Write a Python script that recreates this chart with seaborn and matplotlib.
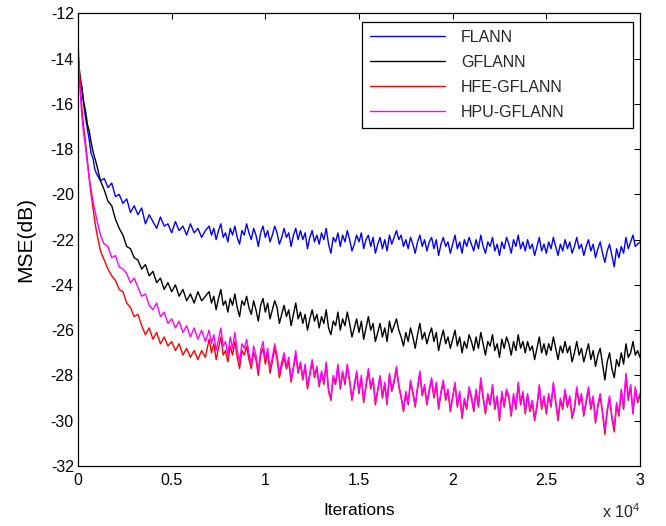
import numpy as np
import pandas as pd
import matplotlib
matplotlib.use("Agg")
import matplotlib.pyplot as plt
import seaborn as sns

series_names = ["FLANN", "GFLANN", "HFE-GFLANN", "HPU-GFLANN"]
series_colors = ["#0000ff", "#000000", "#ff0000", "#ff00ff"]

# iteration positions
early_iters = [0, 100, 200, 300, 400, 500, 600, 700, 800, 900, 1000,
               1200, 1400, 1600, 1800, 2000, 2200, 2400, 2600, 2800, 3000,
               3200, 3400, 3600, 3800, 4000, 4200, 4400, 4600, 4800, 5000,
               5200, 5400, 5600, 5800, 6000, 6200, 6400, 6600, 6800]
late_iters = list(range(7000, 30001, 125))

# ---- FLANN (blue) ----
blue_early = [-14.2, -14.9, -15.2, -16.0, -16.6, -17.1, -17.6, -18.2, -18.4, -18.9, -19.1,
              -19.4, -19.3, -19.7, -19.5, -20.1, -20.0, -20.4, -20.2, -20.8, -20.5,
              -20.9, -20.6, -21.3, -20.9, -21.2, -21.5, -21.0, -21.4, -21.3, -21.7,
              -21.2, -21.6, -21.4, -21.8, -21.3, -21.7, -21.5, -21.9, -21.6]
blue_late = [
    -21.4, -21.8, -21.5, -22.0, -21.6, -21.3, -21.9, -21.7,
    -22.1, -21.5, -21.8, -21.4, -21.9, -22.2, -21.6, -21.8,
    -21.3, -21.7, -22.0, -21.5, -21.8, -22.3, -21.7, -21.4,
    -21.9, -21.6, -22.1, -21.8, -21.4, -21.7, -22.2, -21.9,
    -21.5, -21.9, -21.7, -22.3, -21.8, -21.5, -22.0, -21.6,
    -22.0, -21.7, -22.4, -21.9, -21.6, -22.1, -21.8, -22.2,
    -21.7, -22.0, -21.5, -22.2, -22.6, -21.9, -22.1, -21.7,
    -22.3, -21.8, -22.1, -21.6, -22.0, -22.5, -22.2, -21.8,
    -22.1, -21.7, -22.4, -22.0, -21.8, -22.3, -21.9, -22.6,
    -22.2, -21.9, -22.4, -22.0, -22.5, -21.8, -22.2, -21.9,
    -21.6, -22.0, -21.8, -22.3, -22.0, -22.4, -21.9, -22.2,
    -22.6, -22.1, -21.8, -22.3, -22.0, -22.5, -22.1, -21.9,
    -22.4, -22.0, -22.7, -22.2, -21.9, -22.3, -22.1, -22.6,
    -22.2, -21.8, -22.4, -22.1, -22.6, -22.0, -22.3, -21.9,
    -22.2, -22.5, -22.0, -22.4, -21.8, -22.3, -22.6, -22.1,
    -22.3, -21.9, -22.5, -22.2, -22.7, -22.1, -22.4, -21.9,
    -22.2, -22.6, -22.0, -22.3, -21.8, -22.4, -22.1, -22.5,
    -22.0, -22.4, -22.2, -22.7, -22.3, -21.9, -22.5, -22.2,
    -22.6, -22.1, -22.4, -21.9, -22.3, -22.7, -22.2, -22.5,
    -22.0, -22.4, -22.1, -22.6, -22.3, -21.9, -22.4, -22.2,
    -22.7, -22.3, -22.0, -22.5, -22.2, -22.8, -22.4, -22.1,
    -22.6, -23.0, -22.5, -22.2, -22.7, -23.2, -22.4, -22.8,
    -22.3, -22.6, -21.9, -22.4, -22.1, -21.8, -22.3, -22.2,
    -22.1,
]

# ---- GFLANN (black) ----
black_early = [-14.0, -14.7, -15.3, -15.9, -16.3, -16.9, -17.2, -17.7, -18.1, -18.4, -18.7,
               -19.4, -19.8, -20.3, -20.5, -21.1, -21.5, -21.8, -22.3, -22.4, -22.8,
               -22.9, -23.3, -23.1, -23.6, -23.4, -23.9, -23.7, -24.2, -23.9, -24.3,
               -24.0, -24.5, -24.2, -24.7, -24.4, -24.8, -24.3, -24.7, -24.5]
black_late = [
    -24.3, -24.8, -24.5, -25.1, -24.6, -24.2, -24.9, -24.7,
    -25.2, -24.6, -24.9, -24.4, -25.0, -25.4, -24.7, -24.9,
    -24.5, -25.0, -25.3, -24.7, -25.1, -25.6, -24.9, -24.6,
    -25.2, -24.8, -25.5, -25.1, -24.7, -25.0, -25.7, -25.3,
    -24.9, -25.4, -25.1, -25.8, -25.3, -24.8, -25.5, -25.2,
    -25.7, -25.3, -26.0, -25.5, -25.1, -25.6, -25.3, -25.9,
    -25.4, -25.7, -25.1, -25.9, -26.2, -25.6, -25.8, -25.2,
    -26.0, -25.5, -25.8, -25.2, -25.7, -26.3, -25.9, -25.5,
    -26.1, -25.6, -26.4, -25.9, -25.4, -26.0, -25.7, -26.5,
    -26.1, -25.7, -26.3, -25.9, -26.5, -25.6, -26.1, -25.8,
    -25.5, -26.0, -26.3, -26.7, -26.1, -26.5, -25.9, -26.3,
    -26.8, -26.2, -25.7, -26.4, -26.1, -26.6, -26.2, -25.9,
    -26.5, -26.1, -26.9, -26.4, -26.0, -26.6, -26.3, -26.8,
    -26.4, -26.0, -26.7, -26.3, -27.0, -26.5, -26.8, -26.2,
    -26.5, -26.9, -26.3, -26.8, -26.1, -26.6, -27.1, -26.5,
    -26.7, -26.2, -26.9, -26.6, -27.2, -26.4, -26.8, -26.3,
    -26.6, -27.1, -26.5, -26.9, -26.2, -26.8, -26.5, -27.0,
    -26.5, -26.9, -26.7, -27.3, -26.8, -26.3, -27.0, -26.6,
    -27.1, -26.6, -26.9, -26.3, -26.8, -27.3, -26.7, -27.0,
    -26.5, -27.0, -26.7, -27.4, -27.0, -26.5, -27.1, -26.8,
    -27.4, -27.0, -26.6, -27.3, -26.9, -27.6, -27.1, -26.8,
    -27.5, -28.2, -27.4, -27.0, -27.7, -28.1, -27.3, -27.6,
    -27.0, -27.5, -26.6, -27.2, -27.0, -26.5, -27.1, -26.9,
    -27.2,
]

# ---- HFE-GFLANN (red) ----
red_early = [-13.4, -14.9, -16.1, -17.0, -17.7, -18.5, -19.3, -20.0, -20.6, -21.2, -21.7,
             -22.5, -22.9, -23.3, -23.6, -23.8, -24.2, -24.3, -24.8, -25.0, -25.4,
             -25.3, -25.8, -26.2, -25.9, -26.4, -26.1, -26.6, -26.3, -26.7, -26.5,
             -26.9, -26.6, -27.1, -26.8, -27.2, -26.9, -27.3, -26.9, -27.2]
red_late = [
    -26.4, -27.0, -26.6, -27.3, -26.8, -26.3, -27.1, -26.9,
    -27.4, -26.7, -27.1, -26.5, -27.2, -27.7, -26.9, -27.1,
    -26.7, -27.3, -27.7, -27.0, -27.3, -28.0, -27.1, -26.8,
    -27.5, -27.0, -27.9, -27.4, -26.8, -27.3, -28.1, -27.6,
    -27.2, -27.7, -27.4, -28.3, -27.7, -27.1, -27.9, -27.5,
    -28.2, -27.6, -28.6, -28.0, -27.4, -28.1, -27.7, -28.5,
    -27.9, -28.4, -27.5, -28.7, -29.1, -28.1, -28.4, -27.6,
    -28.6, -27.9, -28.4, -27.6, -28.3, -29.1, -28.5, -27.9,
    -28.8, -28.1, -29.2, -28.5, -27.8, -28.6, -28.2, -29.3,
    -28.7, -28.1, -29.0, -28.4, -29.3, -28.0, -28.7, -28.3,
    -27.7, -28.5, -29.0, -29.6, -28.8, -29.3, -28.3, -28.8,
    -29.4, -28.6, -27.9, -28.9, -28.5, -29.3, -28.7, -28.2,
    -29.0, -28.4, -29.5, -28.8, -28.3, -29.1, -28.7, -29.6,
    -29.0, -28.4, -29.4, -28.8, -29.9, -29.1, -29.5, -28.6,
    -29.0, -29.6, -28.7, -29.4, -28.2, -29.0, -29.7, -28.9,
    -29.3, -28.5, -29.5, -29.0, -30.0, -28.8, -29.4, -28.7,
    -29.0, -29.8, -28.9, -29.5, -28.4, -29.3, -28.8, -29.7,
    -28.9, -29.6, -29.2, -30.0, -29.4, -28.5, -29.5, -29.0,
    -29.7, -28.9, -29.4, -28.4, -29.2, -30.0, -29.1, -29.5,
    -28.7, -29.4, -29.0, -29.9, -29.5, -28.6, -29.3, -28.9,
    -29.8, -29.2, -28.6, -29.5, -29.0, -30.1, -29.4, -28.9,
    -29.7, -30.6, -29.6, -29.0, -29.9, -30.5, -29.3, -29.8,
    -28.7, -29.5, -28.0, -29.1, -28.5, -29.7, -28.6, -29.2,
    -28.9,
]

# ---- HPU-GFLANN (magenta) ----
magenta_early = [-13.6, -15.2, -16.5, -17.3, -17.9, -18.6, -19.3, -19.8, -20.3, -20.7, -21.1,
                 -21.8, -22.2, -22.3, -22.8, -22.7, -23.2, -23.3, -23.5, -23.9, -23.7,
                 -24.1, -24.5, -24.4, -24.9, -25.1, -24.8, -25.4, -25.2, -25.7, -25.5,
                 -25.9, -25.6, -26.1, -25.8, -26.3, -25.9, -26.4, -26.0, -26.5]
magenta_late = [
    -26.0, -26.6, -26.2, -26.9, -26.4, -25.9, -26.7, -26.5,
    -27.1, -26.3, -26.8, -26.1, -26.9, -27.4, -26.6, -26.8,
    -26.4, -27.0, -27.5, -26.7, -27.1, -27.8, -26.9, -26.5,
    -27.3, -26.8, -27.7, -27.2, -26.6, -27.1, -27.9, -27.4,
    -27.0, -27.6, -27.2, -28.2, -27.6, -26.9, -27.8, -27.4,
    -28.1, -27.5, -28.5, -27.9, -27.3, -28.0, -27.6, -28.4,
    -27.8, -28.3, -27.4, -28.6, -29.0, -28.0, -28.3, -27.5,
    -28.5, -27.8, -28.3, -27.5, -28.2, -29.0, -28.4, -27.8,
    -28.7, -28.0, -29.1, -28.4, -27.7, -28.5, -28.1, -29.2,
    -28.6, -28.0, -28.9, -28.3, -29.2, -27.9, -28.6, -28.2,
    -27.6, -28.4, -28.9, -29.5, -28.7, -29.2, -28.2, -28.7,
    -29.3, -28.5, -27.8, -28.8, -28.4, -29.2, -28.6, -28.1,
    -28.9, -28.3, -29.4, -28.7, -28.2, -29.0, -28.6, -29.5,
    -28.9, -28.3, -29.3, -28.7, -29.8, -29.0, -29.4, -28.5,
    -28.9, -29.5, -28.6, -29.3, -28.1, -28.9, -29.6, -28.8,
    -29.2, -28.4, -29.4, -28.9, -29.9, -28.7, -29.3, -28.6,
    -28.9, -29.7, -28.8, -29.4, -28.3, -29.2, -28.7, -29.6,
    -28.8, -29.5, -29.1, -29.9, -29.3, -28.4, -29.4, -28.9,
    -29.6, -28.8, -29.3, -28.3, -29.1, -29.9, -29.0, -29.4,
    -28.6, -29.3, -28.9, -29.8, -29.4, -28.5, -29.2, -28.8,
    -29.7, -29.1, -28.5, -29.4, -28.9, -30.0, -29.3, -28.8,
    -29.6, -30.4, -29.5, -28.9, -29.8, -30.3, -29.2, -29.7,
    -28.6, -29.4, -27.9, -29.0, -28.4, -29.6, -28.5, -29.1,
    -28.8,
]

x_ticks = [0, 5000, 10000, 15000, 20000, 25000, 30000]
x_tick_labels = ["0", "0.5", "1", "1.5", "2", "2.5", "3"]
y_ticks = [-32, -30, -28, -26, -24, -22, -20, -18, -16, -14, -12]

frames = []
for name, v_e, v_l in [
    ("FLANN", blue_early, blue_late),
    ("GFLANN", black_early, black_late),
    ("HFE-GFLANN", red_early, red_late),
    ("HPU-GFLANN", magenta_early, magenta_late),
]:
    frames.append(pd.DataFrame({"Iterations": early_iters + late_iters,
                                "MSE": list(v_e) + list(v_l),
                                "Algorithm": name}))
df = pd.concat(frames, ignore_index=True)

sns.set_theme(style="white")
plt.rcParams["font.family"] = ["Liberation Sans", "DejaVu Sans"]
plt.rcParams["mathtext.default"] = "regular"

fig = plt.figure(figsize=(6.66, 5.26), dpi=100)
ax = fig.add_axes([78 / 666, 1 - 466 / 526, 562 / 666, 452.7 / 526])

sns.lineplot(data=df, x="Iterations", y="MSE", hue="Algorithm", hue_order=series_names,
             palette=series_colors, estimator=None, sort=False, linewidth=1.0, ax=ax)

ax.set_xlim(0, 30000)
ax.set_ylim(-32, -12)
ax.set_xticks(x_ticks)
ax.set_xticklabels(x_tick_labels)
ax.set_yticks(y_ticks)
ax.set_yticklabels([str(v) for v in y_ticks])
ax.tick_params(direction="in", length=4.3, width=0.75, top=True, right=True,
               labelsize=11.5, colors="black", pad=5)
ax.tick_params(axis="y", pad=3)
for s in ax.spines.values():
    s.set_color("black")
    s.set_linewidth(0.9)

ax.set_xlabel("Iterations", fontsize=12.5, color="black", labelpad=11)
ax.set_ylabel("MSE(dB)", fontsize=15, color="black", labelpad=11)

fig.text(601.7 / 666, 1 - 518 / 526, r"x 10$^{4}$", fontsize=11.5, ha="left", va="baseline")

leg = ax.legend(loc="upper left", bbox_to_anchor=(0.505, 0.5, 0.482, 0.481), mode="expand",
                borderaxespad=0, frameon=True, fancybox=False, framealpha=1, edgecolor="black",
                fontsize=11.5, handlelength=4.7, handletextpad=1.0, labelspacing=0.62,
                borderpad=0.5, title=None)
leg.get_frame().set_linewidth(0.9)
for h in leg.get_lines():
    h.set_linewidth(1.0)

fig.savefig("out.png", dpi=100, facecolor="white")
